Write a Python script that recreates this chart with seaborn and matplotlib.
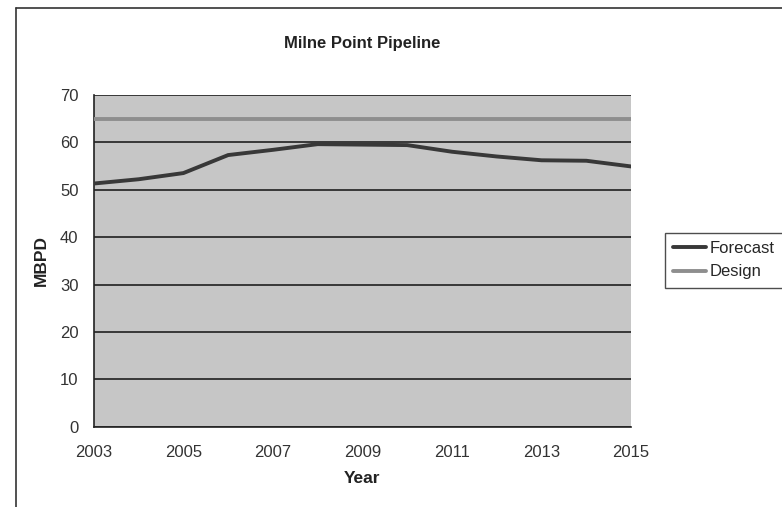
import pandas as pd
import seaborn as sns
import matplotlib.pyplot as plt

# values
years = [2003, 2004, 2005, 2006, 2007, 2008, 2009, 2010, 2011, 2012, 2013, 2014, 2015]
forecast = [51.3, 52.2, 53.5, 57.3, 58.4, 59.6, 59.5, 59.4, 58.0, 57.0, 56.2, 56.1, 54.9]
design = [65] * len(years)
year_ticks = [2003, 2005, 2007, 2009, 2011, 2013, 2015]
mbpd_ticks = [0, 10, 20, 30, 40, 50, 60, 70]

df = pd.DataFrame({
    "Year": years * 2,
    "MBPD": forecast + design,
    "Series": ["Forecast"] * len(years) + ["Design"] * len(years),
})

sns.set_style("white")
plt.rcParams["font.family"] = ["Liberation Sans", "DejaVu Sans"]

fig = plt.figure(figsize=(7.82, 5.07), dpi=100)
ax = fig.add_axes([0.120, 0.158, 0.687, 0.655])
ax.set_facecolor("#c6c6c6")

sns.lineplot(
    data=df,
    x="Year",
    y="MBPD",
    hue="Series",
    palette={"Forecast": "#383838", "Design": "#8e8e8e"},
    linewidth=2.8,
    ax=ax,
    legend=False,
    zorder=3,
)

ax.set_xlim(2003, 2015)
ax.set_ylim(0, 70)
ax.set_xticks(year_ticks)
ax.set_yticks(mbpd_ticks)
ax.yaxis.grid(True, color="#111111", linewidth=1.1)
ax.set_axisbelow(True)

for side in ["top", "right"]:
    ax.spines[side].set_visible(False)
for side in ["left", "bottom"]:
    ax.spines[side].set_color("#222222")
    ax.spines[side].set_linewidth(1.2)

ax.tick_params(axis="both", direction="out", length=4, width=1,
               colors="#222222", labelsize=12, labelcolor="#333333")
ax.tick_params(axis="x", pad=9)
ax.tick_params(axis="y", pad=7)

ax.set_title("Milne Point Pipeline", fontsize=12, fontweight="bold",
             color="#222222", pad=34)
ax.set_xlabel("Year", fontsize=12.5, fontweight="bold", color="#222222", labelpad=8)
ax.set_ylabel("MBPD", fontsize=12.5, fontweight="bold", color="#222222", labelpad=8)

handles = [
    plt.Line2D([], [], color="#383838", linewidth=2.8, label="Forecast"),
    plt.Line2D([], [], color="#8e8e8e", linewidth=2.8, label="Design"),
]
leg = fig.legend(
    handles=handles,
    loc="upper left",
    bbox_to_anchor=(0.850, 0.541),
    frameon=True,
    fancybox=False,
    fontsize=12,
    handlelength=2.0,
    handletextpad=0.2,
    borderpad=0.5,
    borderaxespad=0,
    labelspacing=0.5,
)
leg.get_frame().set_edgecolor("#222222")
leg.get_frame().set_linewidth(1.0)

# chart border seen on the top and left of the reference
fig.add_artist(plt.Line2D([0.0205, 0.0205], [0.0, 0.984], color="#333333",
                          linewidth=1.2, transform=fig.transFigure))
fig.add_artist(plt.Line2D([0.0205, 1.0], [0.984, 0.984], color="#333333",
                          linewidth=1.2, transform=fig.transFigure))

fig.savefig("out.png", dpi=100, facecolor="white")
plt.close()
